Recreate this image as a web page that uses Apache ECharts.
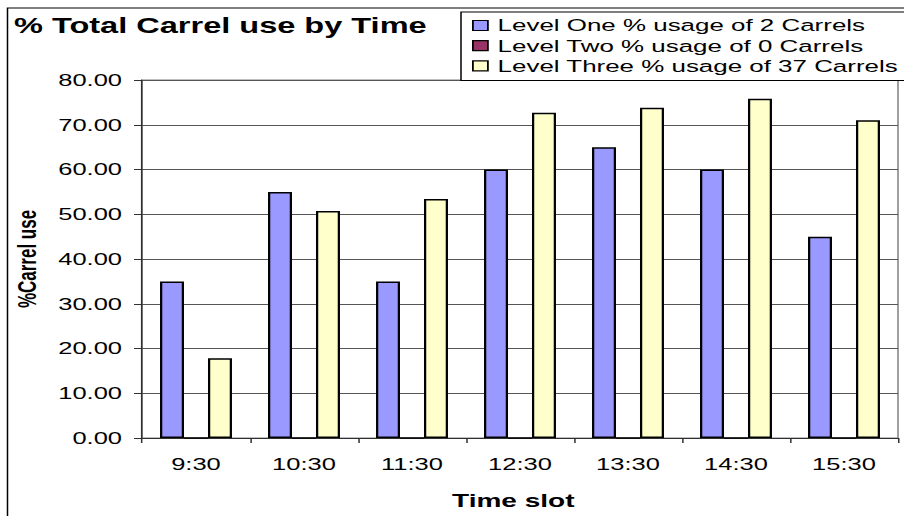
<!DOCTYPE html>
<html>
<head>
<meta charset="utf-8">
<script src="https://cdn.jsdelivr.net/npm/echarts@6/dist/echarts.min.js"></script>
<style>
  html, body { margin: 0; padding: 0; background: #fff; overflow: hidden; width: 904px; height: 516px; }
  #chart { width: 603px; height: 516px; transform: scaleX(1.499171); transform-origin: 0 0; }
</style>
</head>
<body>
<div id="chart"></div>
<script>
// ---- data ----
const categories = ['9:30', '10:30', '11:30', '12:30', '13:30', '14:30', '15:30'];
const seriesNames = [
  'Level One % usage of 2 Carrels',
  'Level Two % usage of 0 Carrels',
  'Level Three % usage of 37 Carrels'
];
const levelOne = [35, 55, 35, 60, 65, 60, 45];
const levelTwo = [0, 0, 0, 0, 0, 0, 0];
const levelThree = [17.8, 50.7, 53.4, 72.7, 73.8, 75.8, 71.0];
const yMin = 0, yMax = 80, yStep = 10;
const titleText = '% Total Carrel use by Time';
const xAxisName = 'Time slot';
const yAxisName = '%Carrel use';

// ---- styling ----
const S = 904 / 603;           // horizontal stretch of the page
const X = v => v / S;          // image x -> chart x
const colors = ['#9999FF', '#993366', '#FFFFCC'];
const font = 'Liberation Sans, Arial, sans-serif';

const chart = echarts.init(document.getElementById('chart'), null, { renderer: 'svg' });
const seriesData = [levelOne, levelTwo, levelThree];

chart.setOption({
  animation: false,
  backgroundColor: '#fff',
  textStyle: { fontFamily: font },
  title: {
    text: titleText,
    left: X(14), top: 15, padding: 0,
    textStyle: { fontFamily: font, fontSize: 21.7, fontWeight: 'bold', color: '#000' }
  },
  legend: {
    orient: 'vertical',
    left: X(461), top: 12,
    padding: [5, 12, 6, X(11)],
    itemWidth: 10, itemHeight: 10, itemGap: 3.2,
    icon: 'rect',
    backgroundColor: '#fff',
    borderColor: '#000', borderWidth: 1, borderRadius: 0,
    itemStyle: { borderColor: '#000', borderWidth: 1.2 },
    textStyle: { fontFamily: font, fontSize: 17.3, color: '#000', padding: [0, 0, 0, 1.5] },
    data: seriesNames
  },
  graphic: [{
    type: 'rect', silent: true, z: -10,
    shape: { x: X(7.5), y: 8, width: 700, height: 700 },
    style: { fill: 'none', stroke: '#000', lineWidth: 1 }
  }],
  grid: {
    left: X(142), right: X(904 - 898), top: 80, bottom: 516 - 438,
    show: true, borderColor: '#808080', borderWidth: 1, backgroundColor: 'transparent'
  },
  xAxis: {
    type: 'category',
    data: categories,
    axisLine: { lineStyle: { color: '#303030', width: 1 } },
    axisTick: { show: true, length: 5, lineStyle: { color: '#303030' } },
    axisLabel: { interval: 0, margin: 18, fontFamily: font, fontSize: 17, color: '#000' },
    name: xAxisName,
    nameLocation: 'middle',
    nameGap: 53,
    nameTextStyle: { fontFamily: font, fontSize: 18.7, fontWeight: 'bold', color: '#000', padding: [0, 9, 0, 0] }
  },
  yAxis: {
    type: 'value',
    min: yMin, max: yMax, interval: yStep,
    axisLine: { show: true, lineStyle: { color: '#303030', width: 1 } },
    axisTick: { show: true, length: X(8), lineStyle: { color: '#303030' } },
    splitLine: { lineStyle: { color: '#555555', width: 1 } },
    axisLabel: {
      margin: X(20), fontFamily: font, fontSize: 17, color: '#000',
      formatter: v => v.toFixed(2)
    },
    name: yAxisName,
    nameLocation: 'middle',
    nameGap: 68,
    nameTextStyle: { fontFamily: font, fontSize: 17, fontWeight: 'bold', color: '#000' }
  },
  series: seriesNames.map((n, i) => ({
    name: n,
    type: 'bar',
    data: seriesData[i],
    barWidth: 16,
    barGap: '0%',
    itemStyle: { color: colors[i], borderColor: '#000', borderWidth: 1.5 }
  }))
});
</script>
</body>
</html>
